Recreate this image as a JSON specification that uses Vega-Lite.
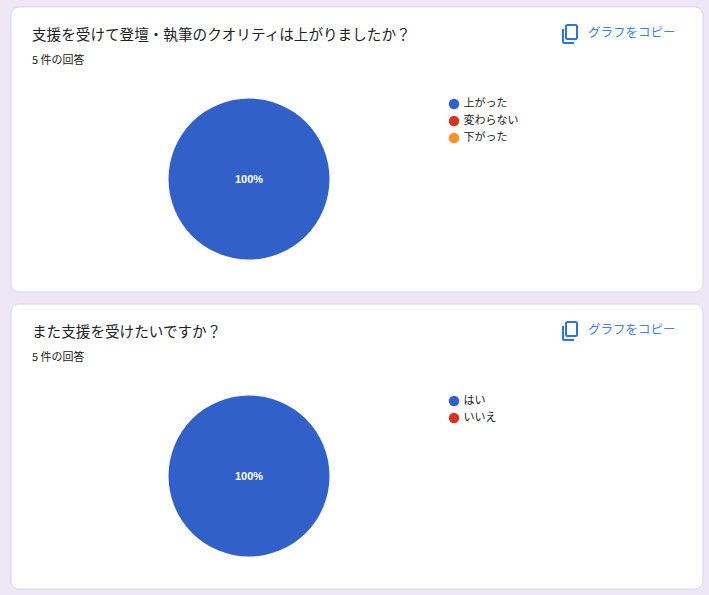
{
  "$schema": "https://vega.github.io/schema/vega-lite/v6.json",
  "background": "#ede7f6",
  "padding": {"left": 9.5, "top": 5.5, "right": 6, "bottom": 6},
  "spacing": 10,
  "config": {
    "font": "Noto Sans CJK JP",
    "view": {"fill": "#ffffff", "stroke": "#d8d6de", "cornerRadius": 8},
    "title": {
      "anchor": "start",
      "frame": "group",
      "baseline": "top",
      "offset": -59,
      "dx": 21.5,
      "fontSize": 14.6,
      "fontWeight": "normal",
      "color": "#202124",
      "subtitleFontSize": 11,
      "subtitleColor": "#202124",
      "subtitlePadding": 12
    },
    "legend": {
      "orient": "none",
      "legendX": 438,
      "legendY": 92,
      "title": null,
      "symbolType": "circle",
      "symbolSize": 110,
      "symbolStrokeWidth": 0,
      "labelFontSize": 11,
      "labelColor": "#202124",
      "labelOffset": 4,
      "rowPadding": 5
    }
  },
  "vconcat": [
    {
      "width": 692,
      "height": 285,
      "title": {"text": "支援を受けて登壇・執筆のクオリティは上がりましたか？", "subtitle": "5 件の回答"},
      "data": {
        "values": [
          {"answer": "上がった", "count": 5, "pct": "100%"},
          {"answer": "変わらない", "count": 0, "pct": "0%"},
          {"answer": "下がった", "count": 0, "pct": "0%"}
        ]
      },
      "layer": [
        {
          "mark": {"type": "arc", "outerRadius": 80.5},
          "encoding": {
            "x": {"value": 238.5},
            "y": {"value": 172.5},
            "theta": {"field": "count", "type": "quantitative", "stack": true},
            "color": {
              "field": "answer",
              "type": "nominal",
              "scale": {"domain": ["上がった", "変わらない", "下がった"], "range": ["#3160c8", "#d5361f", "#ff9325"]}
            }
          }
        },
        {
          "transform": [{"filter": "datum.count > 0"}],
          "mark": {"type": "text", "color": "#ffffff", "fontSize": 11, "fontWeight": "bold", "font": "Liberation Sans", "dy": 1},
          "encoding": {
            "x": {"value": 238.5},
            "y": {"value": 172.5},
            "text": {"field": "pct"}
          }
        },
        {
          "data": {"values": [{"label": "グラフをコピー"}]},
          "layer": [
            {
              "mark": {
                "type": "point",
                "shape": "M-0.35 -0.75 Q-0.35 -0.9 -0.2 -0.9 L0.6 -0.9 Q0.75 -0.9 0.75 -0.75 L0.75 0.35 Q0.75 0.5 0.6 0.5 L-0.2 0.5 Q-0.35 0.5 -0.35 0.35 Z M-0.65 -0.5 L-0.65 0.75 Q-0.65 0.9 -0.5 0.9 L0.45 0.9",
                "filled": false,
                "stroke": "#2a72e5",
                "strokeWidth": 2,
                "size": 400,
                "opacity": 1
              },
              "encoding": {"x": {"value": 559}, "y": {"value": 27.5}}
            },
            {
              "mark": {"type": "text", "align": "left", "color": "#3f7fe8", "fontSize": 12.5},
              "encoding": {"x": {"value": 577.5}, "y": {"value": 26.5}, "text": {"field": "label"}}
            }
          ]
        }
      ]
    },
    {
      "width": 692,
      "height": 285,
      "title": {"text": "また支援を受けたいですか？", "subtitle": "5 件の回答"},
      "data": {
        "values": [
          {"answer": "はい", "count": 5, "pct": "100%"},
          {"answer": "いいえ", "count": 0, "pct": "0%"}
        ]
      },
      "layer": [
        {
          "mark": {"type": "arc", "outerRadius": 80.5},
          "encoding": {
            "x": {"value": 238.5},
            "y": {"value": 172.5},
            "theta": {"field": "count", "type": "quantitative", "stack": true},
            "color": {
              "field": "answer",
              "type": "nominal",
              "scale": {"domain": ["はい", "いいえ"], "range": ["#3160c8", "#d5361f"]}
            }
          }
        },
        {
          "transform": [{"filter": "datum.count > 0"}],
          "mark": {"type": "text", "color": "#ffffff", "fontSize": 11, "fontWeight": "bold", "font": "Liberation Sans", "dy": 1},
          "encoding": {
            "x": {"value": 238.5},
            "y": {"value": 172.5},
            "text": {"field": "pct"}
          }
        },
        {
          "data": {"values": [{"label": "グラフをコピー"}]},
          "layer": [
            {
              "mark": {
                "type": "point",
                "shape": "M-0.35 -0.75 Q-0.35 -0.9 -0.2 -0.9 L0.6 -0.9 Q0.75 -0.9 0.75 -0.75 L0.75 0.35 Q0.75 0.5 0.6 0.5 L-0.2 0.5 Q-0.35 0.5 -0.35 0.35 Z M-0.65 -0.5 L-0.65 0.75 Q-0.65 0.9 -0.5 0.9 L0.45 0.9",
                "filled": false,
                "stroke": "#2a72e5",
                "strokeWidth": 2,
                "size": 400,
                "opacity": 1
              },
              "encoding": {"x": {"value": 559}, "y": {"value": 27.5}}
            },
            {
              "mark": {"type": "text", "align": "left", "color": "#3f7fe8", "fontSize": 12.5},
              "encoding": {"x": {"value": 577.5}, "y": {"value": 26.5}, "text": {"field": "label"}}
            }
          ]
        }
      ]
    }
  ],
  "resolve": {"scale": {"color": "independent"}}
}
